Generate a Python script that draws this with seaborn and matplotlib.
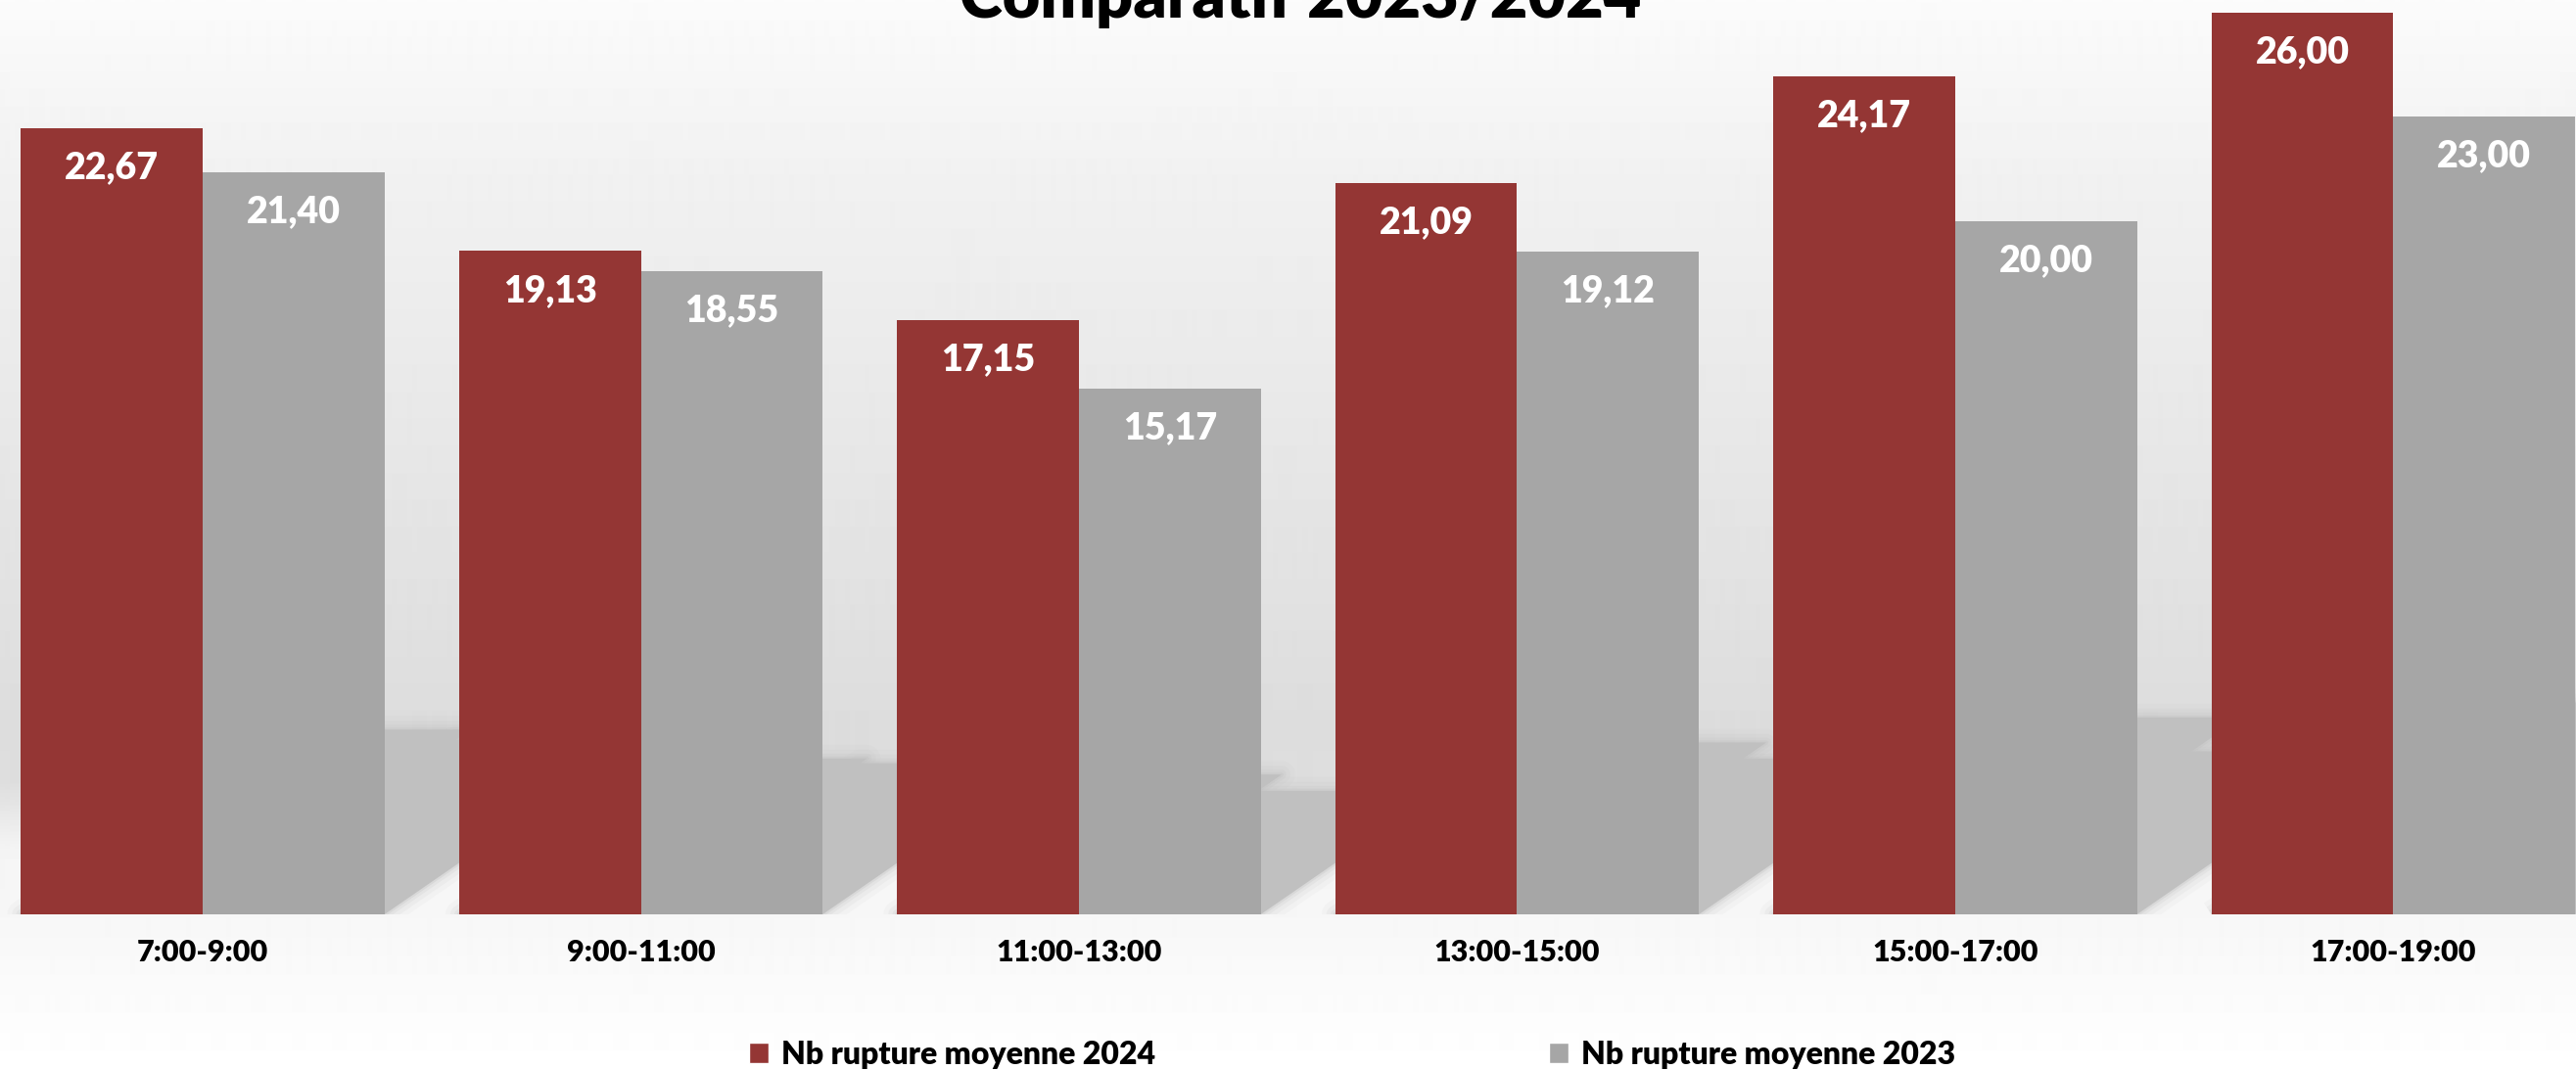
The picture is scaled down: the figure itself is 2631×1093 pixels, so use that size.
import numpy as np
import pandas as pd
import matplotlib.pyplot as plt
import seaborn as sns
from matplotlib.patches import Patch, Polygon

# --- DONNÉES ---
creneaux = ["7:00-9:00", "9:00-11:00", "11:00-13:00", "13:00-15:00", "15:00-17:00", "17:00-19:00"]
moy_2024 = [22.67, 19.13, 17.15, 21.09, 24.17, 26.00]
moy_2023 = [21.40, 18.55, 15.17, 19.12, 20.00, 23.00]
series = ["Nb rupture moyenne 2024", "Nb rupture moyenne 2023"]
couleurs = ["#943634", "#a6a6a6"]

df = pd.DataFrame({
    "Créneau": creneaux * 2,
    "Valeur": moy_2024 + moy_2023,
    "Série": [series[0]] * len(creneaux) + [series[1]] * len(creneaux),
})

sns.set_theme(style="white")
plt.rcParams['font.family'] = ['Lato', 'DejaVu Sans']

W, H = 2631, 1093
fig = plt.figure(figsize=(W / 100, H / 100), dpi=100)

# --- FOND EN DÉGRADÉ ---
bg = fig.add_axes([0, 0, 1, 1], zorder=0)
ys = np.array([0, 180, 500, 740, 800, 870, 934, 1093])
gris = np.array([0.985, 0.945, 0.900, 0.865, 0.870, 0.960, 0.968, 1.0])
col = np.interp(np.arange(H), ys, gris)
bg.imshow(np.repeat(col[:, None], 2, axis=1), cmap='gray', vmin=0, vmax=1,
          aspect='auto', extent=[0, 1, 0, 1], interpolation='bilinear')
bg.axis('off')

# --- GRAPHIQUE ---
base_px = 934          # ligne de base en pixels depuis le haut
px_par_unite = 35.42
ax = fig.add_axes([0, (H - base_px) / H, 1, base_px / H], zorder=1)
ax.patch.set_visible(False)

sns.barplot(data=df, x="Créneau", y="Valeur", hue="Série", palette=couleurs,
            width=0.83, saturation=1, linewidth=0, legend=False, ax=ax, zorder=2)

ax.set_xlim(-0.4626, 5.4168)
ax.set_ylim(0, base_px / px_par_unite)

# ombres en perspective (vers le haut à droite)
barres = list(ax.patches)
dx_px = (ax.get_xlim()[1] - ax.get_xlim()[0]) / W
dy_px = ax.get_ylim()[1] / base_px
contours = []
for b in barres:
    x0, w, h = b.get_x(), b.get_width(), b.get_height()
    hs = 0.235 * h
    dx = 1.45 * (hs / dy_px) * dx_px
    contours.append([(x0, 0), (x0 + w, 0), (x0 + w + dx, hs), (x0 + dx, hs)])
for pts in contours:
    for lw, a in [(20, 0.08), (13, 0.12), (7, 0.18), (3, 0.3)]:
        ax.add_patch(Polygon(pts, closed=True, facecolor='none', edgecolor='#c0c0c0',
                             lw=lw, alpha=a, zorder=0.3, joinstyle='round'))
for pts in contours:
    ax.add_patch(Polygon(pts, closed=True, facecolor='#c0c0c0', edgecolor='none', zorder=0.4))

# étiquettes de valeurs
for b in barres:
    v = b.get_height()
    ax.annotate(f"{v:.2f}".replace('.', ','), (b.get_x() + b.get_width() / 2, v),
                xytext=(0, -29), textcoords='offset points', ha='center', va='center',
                color='white', fontsize=27, fontweight='heavy', zorder=3)

ax.set_xlabel('')
ax.set_ylabel('')
ax.set_yticks([])
ax.set_xticks(range(len(creneaux)))
ax.set_xticklabels(creneaux, fontsize=22, fontweight='heavy', color='black')
ax.tick_params(axis='x', length=0, pad=18)
sns.despine(ax=ax, left=True, bottom=True)

# titre (coupé en haut comme sur l'original)
fig.text(0.5048, 1 - 18 / H, "Comparatif 2023/2024", ha='center', va='baseline',
         fontsize=48, fontweight='heavy', color='black')

# légende
poignees = [Patch(facecolor=c, label=s) for c, s in zip(couleurs, series)]
fig.legend(handles=poignees, loc='center', bbox_to_anchor=(0.5249, 16 / H), ncol=2,
           frameon=False, prop={'weight': 'heavy', 'size': 23}, handlelength=0.63,
           handleheight=0.63, handletextpad=0.38, columnspacing=12.6, borderpad=0,
           labelcolor='black')

fig.savefig("out.png", dpi=100)
